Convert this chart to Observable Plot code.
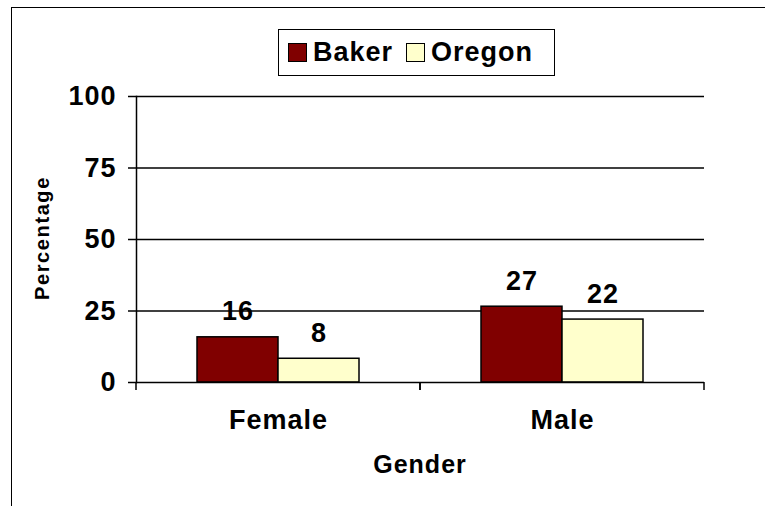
<!DOCTYPE html>
<html>
<head>
<meta charset="utf-8">
<script src="https://cdn.jsdelivr.net/npm/d3@7"></script>
<script src="https://cdn.jsdelivr.net/npm/@observablehq/plot@0.6"></script>
<style>
  html, body { margin: 0; padding: 0; background: #fff; }
  body { font-family: "Liberation Sans", Arial, sans-serif; font-weight: bold; }
  #wrap { position: relative; width: 765px; height: 506px; overflow: hidden; background: #fff; }
  #border { position: absolute; left: 11px; top: 7px; width: 820px; height: 620px; border: 1.5px solid #000; box-sizing: border-box; }
  #chart { position: absolute; left: 0; top: 0; }
  #legend { position: absolute; left: 278px; top: 29px; width: 277px; height: 47px; box-sizing: border-box;
            border: 1.5px solid #000; background: #fff; display: flex; align-items: center; padding-left: 9px; }
  .item { display: flex; align-items: center; font-size: 27px; font-weight: bold; color: #000; margin-right: 13px; letter-spacing: 1px; }
  .sw { width: 19px; height: 19px; border: 1.5px solid #000; margin-right: 6px; box-sizing: border-box; }
  #ylab { position: absolute; left: 42px; top: 238px; transform: translate(-50%, -50%) rotate(-90deg); font-size: 20px; letter-spacing: 1.6px; white-space: nowrap; }
  #xlab { position: absolute; left: 420px; top: 450px; transform: translateX(-50%); font-size: 25px; letter-spacing: 1px; white-space: nowrap; }
</style>
</head>
<body>
<div id="wrap">
  <div id="border"></div>
  <div id="chart"></div>
  <div id="legend"></div>
  <div id="ylab">Percentage</div>
  <div id="xlab">Gender</div>
</div>
<script>
// ---- data ----
const genders = ["Female", "Male"];
const series = ["Baker", "Oregon"];
const bakerValues = [15.8, 26.5];
const oregonValues = [8.3, 22.0];
const yTicks = [0, 25, 50, 75, 100];
const seriesColors = ["#800000", "#FFFFCC"];
const xTitle = "Gender";
const yTitle = "Percentage";

const rows = [];
genders.forEach((g, i) => {
  rows.push({gender: g, series: series[0], value: bakerValues[i]});
  rows.push({gender: g, series: series[1], value: oregonValues[i]});
});

document.getElementById("xlab").textContent = xTitle;
document.getElementById("ylab").textContent = yTitle;

// legend
const legend = document.getElementById("legend");
series.forEach((s, i) => {
  const it = document.createElement("div");
  it.className = "item";
  const sw = document.createElement("div");
  sw.className = "sw";
  sw.style.background = seriesColors[i];
  const t = document.createElement("span");
  t.textContent = s;
  it.appendChild(sw); it.appendChild(t);
  legend.appendChild(it);
});

// boundary ticks under the baseline (at facet edges), using the y scale
const boundaryTicks = (index, scales, values, dims) => {
  const y0 = scales.y(0);
  const g = d3.create("svg:g").attr("stroke", "#000").attr("stroke-width", 1.5);
  [dims.marginLeft, dims.width - dims.marginRight].forEach(x => {
    g.append("line").attr("x1", x).attr("x2", x).attr("y1", y0).attr("y2", y0 + 8);
  });
  return g.node();
};

const chart = Plot.plot({
  width: 765,
  height: 506,
  marginLeft: 136,
  marginRight: 61,
  marginTop: 96,
  marginBottom: 124,
  style: {fontFamily: "'Liberation Sans', Arial, sans-serif", background: "transparent", overflow: "visible", letterSpacing: "1px"},
  fx: {domain: genders, padding: 0, label: null},
  x: {domain: series, paddingInner: 0, paddingOuter: 0.732, axis: null},
  y: {domain: [0, 100], axis: null},
  color: {domain: series, range: seriesColors},
  marks: [
    Plot.ruleY(yTicks.slice(1), {stroke: "#000", strokeWidth: 1.5}),
    Plot.barY(rows, {fx: "gender", x: "series", y: "value", fill: "series", stroke: "#000", strokeWidth: 1.5}),
    Plot.ruleY([0], {stroke: "#000", strokeWidth: 1.5}),
    Plot.frame({anchor: "left", facetAnchor: "left", stroke: "#000", strokeWidth: 1.5}),
    boundaryTicks,
    Plot.axisY({ticks: yTicks, tickSize: 8, tickPadding: 12, fontSize: 27, fontWeight: "bold", stroke: "#000", strokeWidth: 1.5, label: null, color: "#000"}),
    Plot.axisFx({anchor: "bottom", tickSize: 0, tickPadding: 27, fontSize: 27, fontWeight: "bold", label: null, color: "#000"}),
    Plot.text(rows, {fx: "gender", x: "series", y: "value", text: d => String(Math.round(d.value)),
      dy: -17, lineAnchor: "bottom", fontSize: 27, fontWeight: "bold", fill: "#000"})
  ]
});
document.getElementById("chart").appendChild(chart);
</script>
</body>
</html>
